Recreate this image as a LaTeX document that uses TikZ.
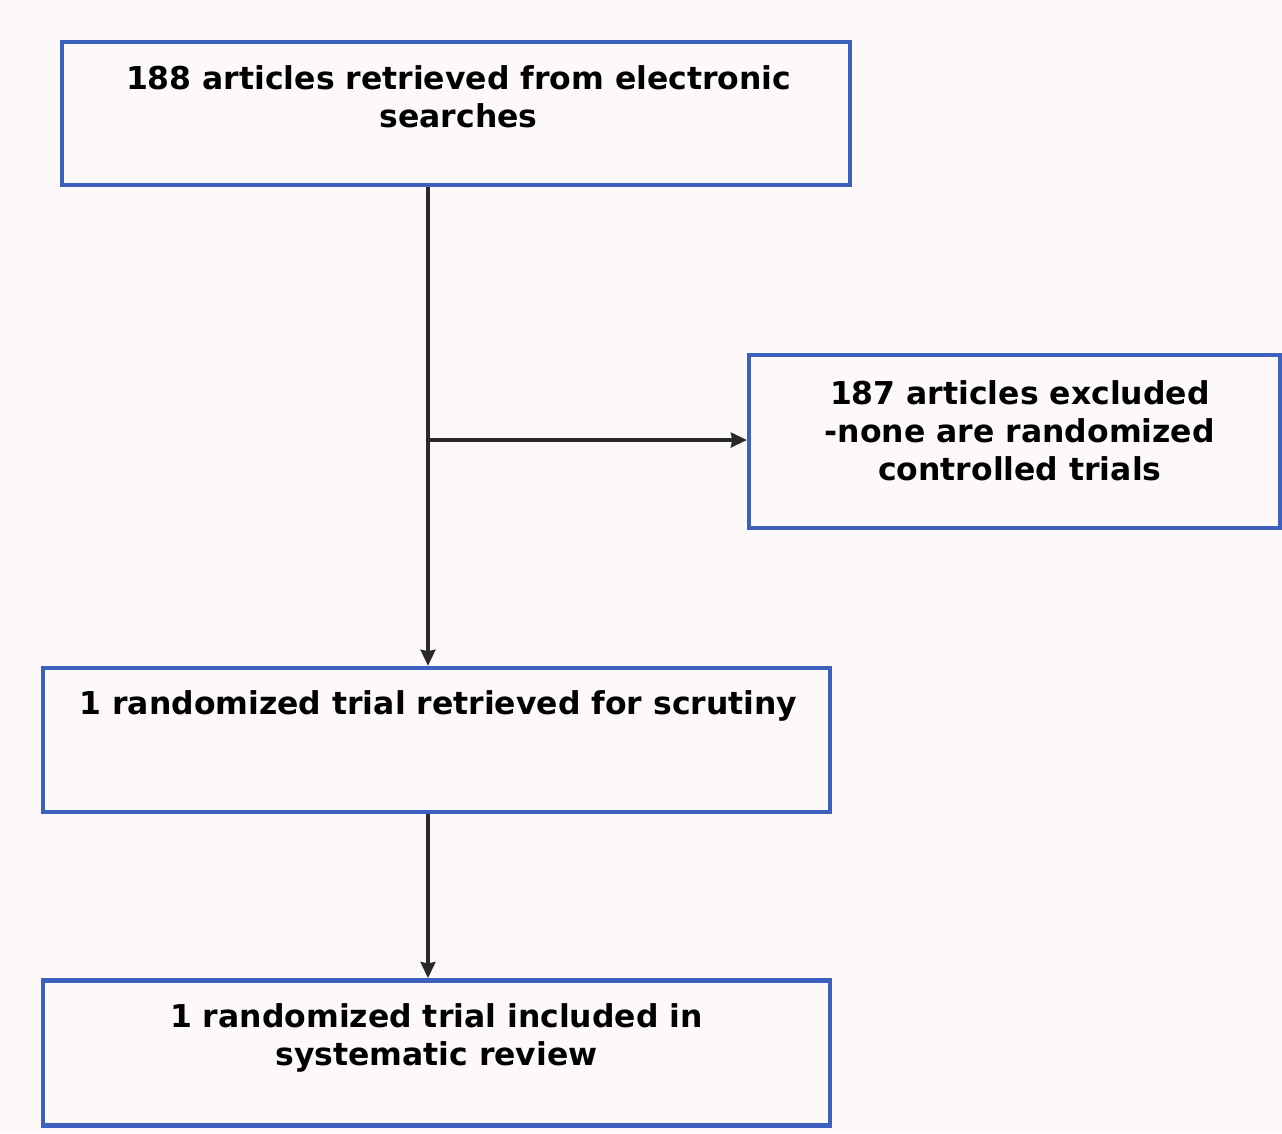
\documentclass[tikz,border=0pt]{standalone}
\usepackage{fontspec}
\setmainfont{DejaVu Sans}
\usetikzlibrary{positioning,arrows.meta}

\definecolor{boxblue}{RGB}{62,96,190}
\definecolor{arrowgray}{RGB}{40,40,45}
\definecolor{paper}{RGB}{253,249,249}

\tikzset{every picture/.style={line width=0.75pt}}
\tikzset{
  flowbox/.style={draw=boxblue, line width=3.3pt, rectangle, inner sep=0pt},
  flowtext/.style={inner sep=0pt, align=center, font=\fontsize{23.6}{28.5}\selectfont\bfseries},
  flowarrow/.style={draw=arrowgray, line width=2.8pt, -{Stealth[length=12pt,width=11pt,inset=1pt]}}
}

\begin{document}
\begin{tikzpicture}[x=0.75pt,y=0.75pt,yscale=-1,xscale=1]

	% Background
	\fill[paper] (0,0) rectangle (1282,1133);
	\useasboundingbox (0,0) rectangle (1282,1133);

	%Shape: Rectangle [id:search]
	\node[flowbox, minimum width=591pt, minimum height=107pt] (search) at (456,113.5) {};
	%Shape: Rectangle [id:excluded]
	\node[flowbox, minimum width=398pt, minimum height=130pt] (excluded) at (1014.5,441.5) {};
	%Shape: Rectangle [id:scrutiny]
	\node[flowbox, minimum width=590pt, minimum height=108pt] (scrutiny) at (436.5,740) {};
	%Shape: Rectangle [id:included]
	\node[flowbox, minimum width=590pt, minimum height=109pt] (included) at (436.5,1053) {};

	% Text Node
	\node[flowtext, below=18.5pt of search.north, xshift=2pt] (searchtxt) {188 articles retrieved from electronic\\searches};
	% Text Node
	\node[flowtext, below=20.5pt of excluded.north, xshift=4pt] (excludedtxt) {187 articles excluded\\-none are randomized\\controlled trials};
	% Text Node
	\node[flowtext, below=18.5pt of scrutiny.north, xshift=1.5pt] (scrutinytxt) {1 randomized trial retrieved for scrutiny};
	% Text Node
	\node[flowtext, below=18.5pt of included.north] (includedtxt) {1 randomized trial included in\\systematic review};

	% Connectors
	\coordinate (trunktop) at (search.south -| 428,0);
	\coordinate (branch) at (428,440);
	\draw[flowarrow] (trunktop) -- (scrutiny.north -| trunktop);
	\draw[flowarrow] (branch) -- (excluded.west |- branch);
	\draw[flowarrow] (scrutiny.south -| trunktop) -- (included.north -| trunktop);

\end{tikzpicture}
\end{document}
